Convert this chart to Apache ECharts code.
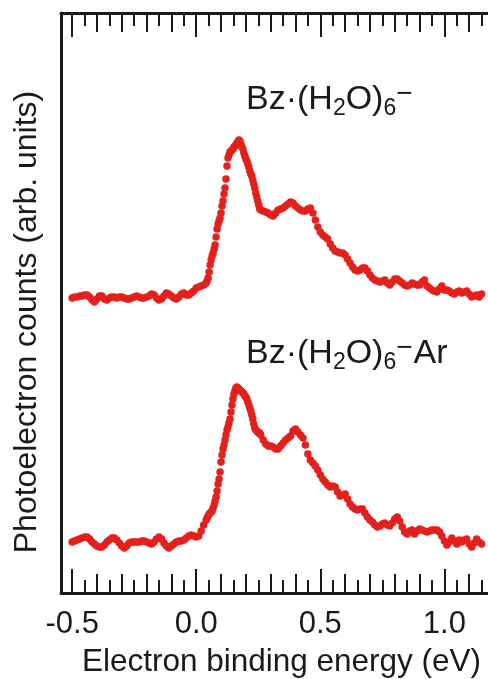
<!DOCTYPE html>
<html>
<head>
<meta charset="utf-8">
<script src="https://cdn.jsdelivr.net/npm/echarts@6.0.0/dist/echarts.min.js"></script>
<style>
  html, body { margin: 0; padding: 0; background: #fff; }
  #spectra { width: 488px; height: 679px; }
</style>
</head>
<body>
<div id="spectra"></div>
<script>
// electron binding energy (eV) of each sample
const energy = [
  -0.50, -0.49, -0.48, -0.47, -0.46, -0.45, -0.44, -0.43, -0.42, -0.41,
  -0.40, -0.39, -0.38, -0.37, -0.36, -0.35, -0.34, -0.33, -0.32, -0.31,
  -0.30, -0.29, -0.28, -0.27, -0.26, -0.25, -0.24, -0.23, -0.22, -0.21,
  -0.20, -0.19, -0.18, -0.17, -0.16, -0.15, -0.14, -0.13, -0.12, -0.11,
  -0.10, -0.09, -0.08, -0.07, -0.06, -0.05, -0.04, -0.03, -0.02, -0.01,
  0.00, 0.01, 0.02, 0.03, 0.04,
  0.044, 0.048, 0.052, 0.056, 0.060, 0.064, 0.068, 0.072, 0.076, 0.080,
  0.084, 0.088, 0.092, 0.096, 0.100, 0.104, 0.108, 0.112, 0.116, 0.120,
  0.124, 0.128, 0.132, 0.136, 0.140, 0.144, 0.148, 0.152, 0.156, 0.160,
  0.164, 0.168, 0.172, 0.176, 0.180, 0.184, 0.188, 0.192, 0.196, 0.200,
  0.204, 0.208, 0.212, 0.216, 0.220, 0.224, 0.228, 0.232, 0.236, 0.240,
  0.244, 0.248, 0.252, 0.256, 0.260,
  0.27, 0.28, 0.29, 0.30, 0.31, 0.32, 0.33, 0.34, 0.35, 0.36,
  0.37, 0.38, 0.39, 0.40, 0.41, 0.42, 0.43, 0.44, 0.45, 0.46,
  0.47, 0.48, 0.49, 0.50, 0.51, 0.52, 0.53, 0.54, 0.55, 0.56,
  0.57, 0.58, 0.59, 0.60, 0.61, 0.62, 0.63, 0.64, 0.65, 0.66,
  0.67, 0.68, 0.69, 0.70, 0.71, 0.72, 0.73, 0.74, 0.75, 0.76,
  0.77, 0.78, 0.79, 0.80, 0.81, 0.82, 0.83, 0.84, 0.85, 0.86,
  0.87, 0.88, 0.89, 0.90, 0.91, 0.92, 0.93, 0.94, 0.95, 0.96,
  0.97, 0.98, 0.99, 1.00, 1.01, 1.02, 1.03, 1.04, 1.05, 1.06,
  1.07, 1.08, 1.09, 1.10, 1.11, 1.12, 1.13, 1.14, 1.15
];

// Bz·(H2O)6− spectrum (offset upwards)
const countsBzW6 = [
  295, 296, 296, 297, 297, 298, 298, 296, 293, 291,
  294, 297, 297, 294, 293, 295, 296, 296, 295, 296,
  296, 295, 294, 294, 295, 296, 297, 296, 295, 295,
  296, 297, 299, 298, 295, 293, 294, 297, 300, 299,
  297, 295, 294, 296, 299, 300, 298, 298, 300, 302,
  305, 306, 307, 308, 310,
  312, 315, 321, 328, 333, 337, 340, 344, 348, 356,
  364, 369, 372, 375, 380, 387, 392, 399, 405, 414,
  427, 435, 438, 441, 442, 443, 444, 446, 447, 448,
  450, 451, 453, 452, 449, 446, 444, 440, 437, 434,
  432, 429, 426, 422, 419, 417, 413, 409, 405, 400,
  396, 392, 388, 384, 383,
  382, 381, 380, 378, 377, 380, 383, 384, 385, 387,
  389, 391, 390, 387, 385, 383, 382, 382, 384, 385,
  380, 373, 366, 361, 358, 356, 354, 349, 345, 342,
  341, 340, 340, 338, 334, 330, 326, 323, 322, 323,
  325, 325, 322, 318, 315, 313, 312, 311, 312, 313,
  310, 308, 311, 314, 314, 312, 310, 308, 307, 308,
  310, 309, 308, 308, 311, 313, 307, 305, 303, 302,
  301, 304, 307, 303, 303, 302, 300, 299, 301, 302,
  300, 301, 302, 299, 296, 297, 298, 296, 299
];

// Bz·(H2O)6−Ar spectrum
const countsBzW6Ar = [
  51, 52, 53, 54, 55, 56, 56, 54, 51, 49,
  47, 46, 46, 48, 51, 53, 55, 55, 53, 50,
  47, 45, 47, 50, 51, 51, 51, 51, 52, 52,
  51, 50, 49, 51, 54, 56, 54, 50, 47, 45,
  47, 49, 51, 52, 52, 53, 55, 57, 58, 57,
  56, 57, 62, 68, 73,
  75, 77, 79, 80, 81, 82, 85, 88, 92, 96,
  102, 109, 114, 121, 131, 138, 144, 148, 153, 158,
  163, 166, 170, 174, 181, 188, 194, 199, 202, 205,
  206, 205, 204, 203, 202, 201, 200, 199, 197, 196,
  194, 191, 188, 185, 182, 178, 174, 169, 165, 163,
  162, 161, 160, 160, 158,
  153, 149, 147, 147, 146, 144, 144, 147, 150, 153,
  155, 157, 162, 164, 161, 158, 155, 148, 139, 133,
  130, 127, 123, 118, 114, 111, 108, 106, 107, 106,
  101, 97, 98, 99, 94, 89, 86, 84, 83, 84,
  84, 80, 76, 73, 71, 68, 66, 67, 69, 70,
  68, 67, 70, 74, 76, 72, 66, 61, 59, 62,
  63, 59, 62, 64, 63, 62, 61, 62, 63, 63,
  63, 61, 57, 52, 48, 51, 55, 52, 49, 53,
  51, 53, 54, 49, 46, 50, 54, 51, 49
];

// labelled ticks on the energy axis
const tickLabels = ['-0.5', '0.0', '0.5', '1.0'];
const majorTicks = tickLabels.map(Number);

// ticks every 0.05 eV: medium on 0.1, short in between
let mediumTicks = [];
let shortTicks = [];
for (let i = -10; i <= 23; i++) {
  let v = Math.round(i * 5) / 100;
  if (i % 10 === 0) continue;
  if (i % 2 === 0) mediumTicks.push(v);
  else shortTicks.push(v);
}

const font = '"Liberation Sans", Arial, Helvetica, sans-serif';
const ink = '#1a1a1a';
const red = '#e3201b';

let myChart = echarts.init(document.getElementById('spectra'));

// one x axis per tick length, on both bottom and top
function tickAxis(position, values, len, withLine) {
  return {
    type: 'value',
    position: position,
    min: -0.545,
    max: 1.2,
    axisLine: { show: withLine, onZero: false, lineStyle: { color: ink, width: 3 } },
    axisTick: {
      show: true,
      inside: true,
      length: len,
      customValues: values,
      lineStyle: { color: ink, width: 2 },
    },
    axisLabel: { show: false },
    splitLine: { show: false },
  };
}

let bottomMajor = tickAxis('bottom', majorTicks, 24, true);
bottomMajor.axisLabel = {
  show: true,
  customValues: majorTicks,
  formatter: function (v) {
    return tickLabels[majorTicks.indexOf(v)] || v.toFixed(1);
  },
  fontFamily: font,
  fontSize: 31,
  color: ink,
  margin: 16,
};
bottomMajor.name = 'Electron binding energy (eV)';
bottomMajor.nameLocation = 'middle';
bottomMajor.nameGap = 53;
bottomMajor.nameTextStyle = { fontFamily: font, fontSize: 31.5, color: ink, align: 'center', padding: [0, 0, 0, 8] };

let toPoints = function (counts) {
  return energy.map(function (e, i) {
    return [e, counts[i]];
  });
};

let dotSeries = function (name, counts) {
  return {
    name: name,
    type: 'scatter',
    xAxisIndex: 0,
    symbol: 'circle',
    symbolSize: 7.5,
    itemStyle: { color: red, opacity: 1 },
    data: toPoints(counts),
    silent: true,
  };
};

// rich text styles for the formula labels
let formulaRich = {
  n: { fontFamily: font, fontSize: 34, lineHeight: 40, fill: ink },
  s: { fontFamily: font, fontSize: 23, lineHeight: 22, fill: ink, verticalAlign: 'bottom' },
  p: { fontFamily: font, fontSize: 28, lineHeight: 28, fill: ink, verticalAlign: 'top' },
  a: { fontFamily: font, fontSize: 34, lineHeight: 40, fill: ink, padding: [0, 0, 0, 1] },
};

let option = {
  backgroundColor: '#fff',
  animation: false,
  grid: {
    left: 61,
    right: -6,
    top: 13,
    bottom: 86,
    containLabel: false,
    outerBoundsMode: 'none',
  },
  xAxis: [
    bottomMajor,
    tickAxis('bottom', mediumTicks, 19, false),
    tickAxis('bottom', shortTicks, 13, false),
    tickAxis('top', majorTicks, 24, true),
    tickAxis('top', mediumTicks, 19, false),
    tickAxis('top', shortTicks, 13, false),
  ],
  yAxis: {
    type: 'value',
    min: 0,
    max: 580,
    axisLine: { show: true, onZero: false, lineStyle: { color: ink, width: 3 } },
    axisTick: { show: false },
    axisLabel: { show: false },
    splitLine: { show: false },
  },
  graphic: [
    {
      type: 'text',
      x: 27,
      y: 322,
      rotation: Math.PI / 2,
      style: {
        text: 'Photoelectron counts (arb. units)',
        font: '32px ' + font,
        fill: ink,
        textAlign: 'center',
        textVerticalAlign: 'middle',
      },
    },
    {
      type: 'text',
      x: 246,
      y: 100,
      style: {
        text: '{n|Bz·(H}{s|2}{n|O)}{s|6}{p|−}',
        textAlign: 'left',
        textVerticalAlign: 'middle',
        rich: formulaRich,
      },
    },
    {
      type: 'text',
      x: 246,
      y: 354,
      style: {
        text: '{n|Bz·(H}{s|2}{n|O)}{s|6}{p|−}{a|Ar}',
        textAlign: 'left',
        textVerticalAlign: 'middle',
        rich: formulaRich,
      },
    },
  ],
  series: [
    dotSeries('Bz·(H2O)6−', countsBzW6),
    dotSeries('Bz·(H2O)6−Ar', countsBzW6Ar),
  ],
};

myChart.setOption(option);
</script>
</body>
</html>
